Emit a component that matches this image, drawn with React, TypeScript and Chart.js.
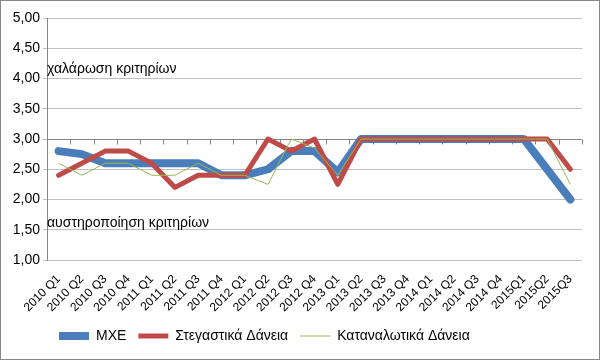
import React, { useEffect, useRef } from "react";
import { Chart, registerables } from "chart.js";

Chart.register(...registerables);

const categories = [
  "2010 Q1", "2010 Q2", "2010 Q3", "2010 Q4",
  "2011 Q1", "2011 Q2", "2011 Q3", "2011 Q4",
  "2012 Q1", "2012 Q2", "2012 Q3", "2012 Q4",
  "2013 Q1", "2013 Q2", "2013 Q3", "2013 Q4",
  "2014 Q1", "2014 Q2", "2014 Q3", "2014 Q4",
  "2015Q1", "2015Q2", "2015Q3",
];

const mxe = [2.8, 2.75, 2.6, 2.6, 2.6, 2.6, 2.6, 2.4, 2.4, 2.5, 2.8, 2.8, 2.45, 3, 3, 3, 3, 3, 3, 3, 3, 2.5, 2.0];
const housing = [2.4, 2.6, 2.8, 2.8, 2.6, 2.2, 2.4, 2.4, 2.4, 3.0, 2.8, 3.0, 2.25, 3, 3, 3, 3, 3, 3, 3, 3, 3.0, 2.5];
const consumer = [2.6, 2.4, 2.6, 2.6, 2.4, 2.4, 2.6, 2.4, 2.4, 2.25, 3.0, 2.85, 2.4, 3, 3, 3, 3, 3, 3, 3, 3, 3.0, 2.25];

const seriesNames = ["ΜΧΕ", "Στεγαστικά Δάνεια", "Καταναλωτικά Δάνεια"];

const yMin = 1;
const yMax = 5;
const yStep = 0.5;
const axisCross = 3;

const annotations = [
  { text: "χαλάρωση κριτηρίων", value: 4.15 },
  { text: "αυστηροποίηση κριτηρίων", value: 1.61 },
];

const FONT = "'Liberation Sans', Arial, sans-serif";

export default function App() {
  const ref = useRef<HTMLCanvasElement | null>(null);

  useEffect(() => {
    const canvas = ref.current;
    if (!canvas) return;

    const extras = {
      id: "extras",
      beforeDatasetsDraw(chart: any) {
        const { ctx, chartArea, scales } = chart;
        const x = scales.x;
        const y = scales.y;
        const yy = Math.round(y.getPixelForValue(axisCross)) + 0.5;
        ctx.save();
        ctx.strokeStyle = "#868686";
        ctx.lineWidth = 1;
        ctx.beginPath();
        ctx.moveTo(chartArea.left, yy);
        ctx.lineTo(chartArea.right, yy);
        const n = categories.length;
        const w = (chartArea.right - chartArea.left) / n;
        for (let i = 1; i <= n; i++) {
          const px = Math.round(x.getPixelForValue(i - 1) + w / 2) + 0.5;
          ctx.moveTo(px, yy);
          ctx.lineTo(px, yy + 5);
        }
        ctx.stroke();
        ctx.restore();
      },
      afterDraw(chart: any) {
        const { ctx, chartArea, scales } = chart;
        ctx.save();
        ctx.fillStyle = "#000000";
        ctx.font = `14px ${FONT}`;
        ctx.textBaseline = "middle";
        ctx.textAlign = "left";
        for (const a of annotations) {
          ctx.fillText(a.text, chartArea.left, scales.y.getPixelForValue(a.value));
        }
        ctx.strokeStyle = "#868686";
        ctx.lineWidth = 1;
        ctx.strokeRect(0.5, 0.5, chart.width - 2, chart.height - 2);
        ctx.restore();
      },
    };

    const chart = new Chart(canvas, {
      type: "line",
      data: {
        labels: categories,
        datasets: [
          {
            label: seriesNames[0],
            data: mxe,
            borderColor: "#4A7EBB",
            backgroundColor: "#4A7EBB",
            borderWidth: 8,
            borderCapStyle: "round",
            borderJoinStyle: "round",
            pointRadius: 0,
            tension: 0,
            order: 3,
          },
          {
            label: seriesNames[1],
            data: housing,
            borderColor: "#BE4B48",
            backgroundColor: "#BE4B48",
            borderWidth: 5,
            borderCapStyle: "round",
            borderJoinStyle: "round",
            pointRadius: 0,
            tension: 0,
            order: 2,
          },
          {
            label: seriesNames[2],
            data: consumer,
            borderColor: "#98B954",
            backgroundColor: "#98B954",
            borderWidth: 1,
            pointRadius: 0,
            tension: 0,
            order: 1,
          },
        ],
      },
      options: {
        responsive: false,
        animation: false,
        layout: { padding: { top: 18, left: 0, right: 19, bottom: 8 } },
        plugins: {
          tooltip: { enabled: false },
          legend: {
            position: "bottom",
            align: "start",
            fullSize: false,
            labels: {
              usePointStyle: true,
              pointStyle: "line",
              pointStyleWidth: 30,
              padding: 12,
              color: "#000000",
              font: { family: FONT, size: 14 },
              sort: (a: any, b: any) => a.datasetIndex - b.datasetIndex,
            },
          },
        },
        scales: {
          x: {
            type: "category",
            offset: true,
            grid: { display: false, drawTicks: false, offset: true },
            border: { display: false },
            ticks: {
              autoSkip: false,
              maxRotation: 45,
              minRotation: 45,
              padding: 12,
              color: "#000000",
              font: { family: FONT, size: 12 },
            },
            afterFit(scale: any) {
              scale.height = 57;
            },
          },
          y: {
            min: yMin,
            max: yMax,
            grid: { color: "#BFBFBF", tickLength: 4, drawTicks: true },
            border: { display: true, color: "#868686" },
            ticks: {
              stepSize: yStep,
              padding: 3,
              color: "#000000",
              font: { family: FONT, size: 14 },
              callback: (v: any) => Number(v).toFixed(2).replace(".", ","),
            },
            afterFit(scale: any) {
              scale.width = 47;
            },
          },
        },
      },
      plugins: [extras],
    });

    return () => chart.destroy();
  }, []);

  return (
    <div style={{ position: "fixed", left: 0, top: 0, width: 601, height: 361, background: "#fff" }}>
      <canvas ref={ref} width={601} height={361} style={{ display: "block" }} />
    </div>
  );
}
